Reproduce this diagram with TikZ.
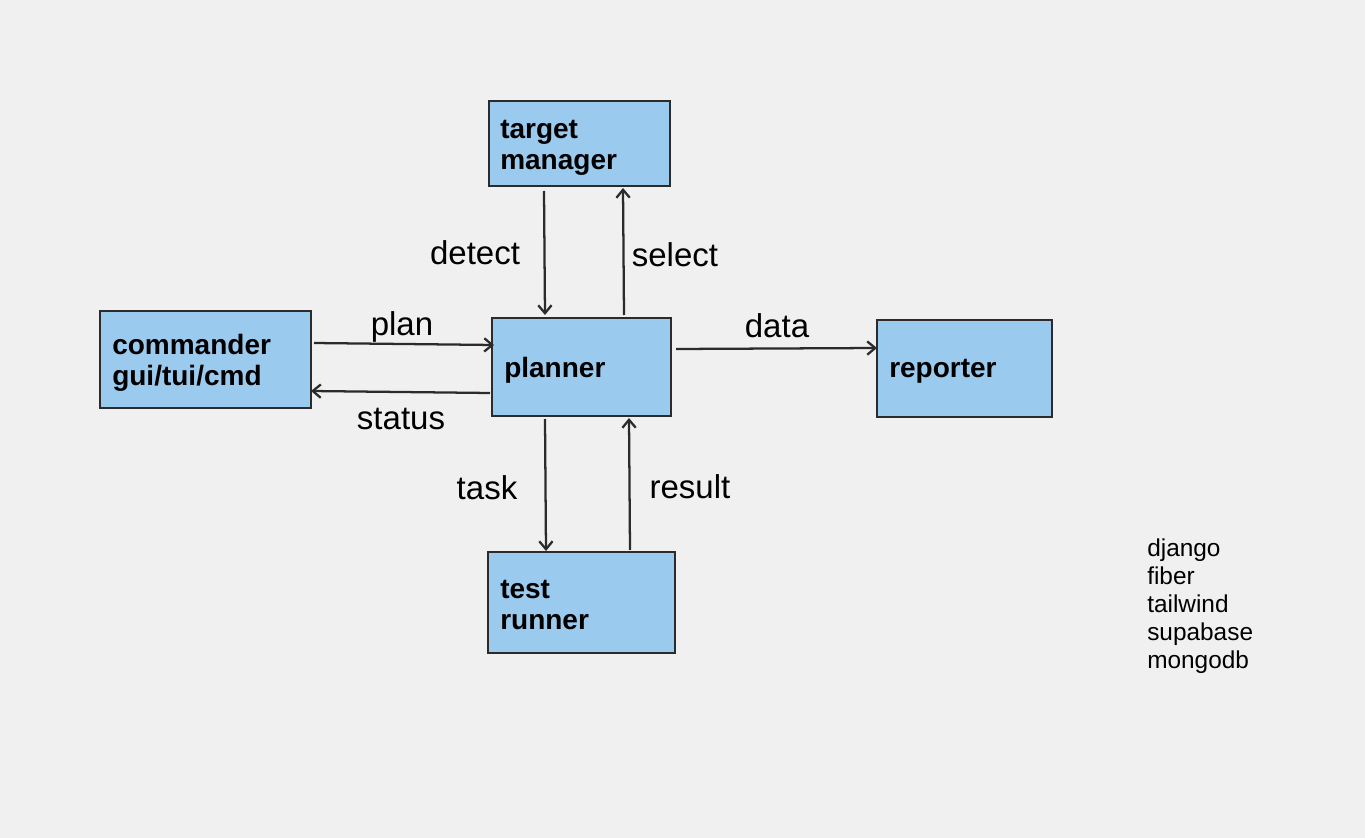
\documentclass[tikz,border=0pt]{standalone}
\usepackage{fontspec}
\setmainfont{Liberation Sans}
\usepackage{xcolor}
\usetikzlibrary{
    positioning,
    arrows.meta,
    calc
}
\definecolor{bgcol}{HTML}{F0F0F0}
\definecolor{boxfill}{HTML}{9BCAEF}
\definecolor{linecol}{HTML}{2B2B2B}

\begin{document}
\begin{tikzpicture}[x=0.75pt, y=-0.75pt,
        box/.style={draw=linecol, line width=1.5pt, fill=boxfill, inner sep=0pt},
        boxtext/.style={anchor=west, align=left, inner sep=0pt, font=\fontsize{21}{23.25}\selectfont\bfseries},
        lbl/.style={font=\fontsize{24.75}{28}\selectfont, inner sep=0pt},
        arr/.style={->, >={Straight Barb[length=6pt, width=10pt]}, line width=1.7pt, draw=linecol}]
        \fill[bgcol] (0,0) rectangle (1365,838);
        % ブロック
        \node[box, minimum width=135.75pt, minimum height=63.75pt] (tm) at (579.5,143.5) {};
        \node[box, minimum width=134.25pt, minimum height=73.5pt] (pl) at (581.5,367) {};
        \node[box, minimum width=158.25pt, minimum height=72.75pt] (cm) at (205.5,359.5) {};
        \node[box, minimum width=131.25pt, minimum height=72.75pt] (rp) at (964.5,368.5) {};
        \node[box, minimum width=140.25pt, minimum height=75.75pt] (tr) at (581.5,602.5) {};
        \node[boxtext] (tmtext) at ($(tm.west)+(12,4)$) {target\\manager};
        \node[boxtext] (pltext) at ($(pl.west)+(13,3)$) {planner};
        \node[boxtext] (cmtext) at ($(cm.west)+(13,3)$) {commander\\gui/tui/cmd};
        \node[boxtext] (rptext) at ($(rp.west)+(13,3)$) {reporter};
        \node[boxtext] (trtext) at ($(tr.west)+(13,3)$) {test\\runner};
        
        % 矢印
        \draw[arr] ($(tm.south)+(-35.5,4)$) -- ($(pl.north)+(-36.5,-2)$);
        \draw[arr] ($(pl.north)+(42.5,-2)$) -- ($(tm.south)+(43.5,1)$);
        \draw[arr] ($(cm.east)+(2,-16.5)$) -- ($(pl.west)+(3,-22)$);
        \draw[arr] ($(pl.west)+(-1,26)$) -- ($(cm.east)+(-1,31.5)$);
        \draw[arr] ($(pl.east)+(4,-18)$) -- ($(rp.west)+(1,-20.5)$);
        \draw[arr] ($(pl.south)+(-36.5,2)$) -- ($(tr.north)+(-35.5,0)$);
        \draw[arr] ($(tr.north)+(48.5,-1)$) -- ($(pl.south)+(47.5,1)$);
        
        \node[lbl] (detect) at (475,253) {detect};
        \node[lbl] (select) at (675,255) {select};
        \node[lbl] (plan) at (402,327) {plan};
        \node[lbl] (status) at (401,419) {status};
        \node[lbl] (data) at (777,326) {data};
        \node[lbl] (task) at (487,488) {task};
        \node[lbl] (result) at (690,487) {result};
        
        \node[anchor=north west, inner sep=0pt, align=left, font=\fontsize{18.3}{21}\selectfont] (stack) at (1147,539)
            {django\\fiber\\tailwind\\supabase\\mongodb};
    \end{tikzpicture}
\end{document}
